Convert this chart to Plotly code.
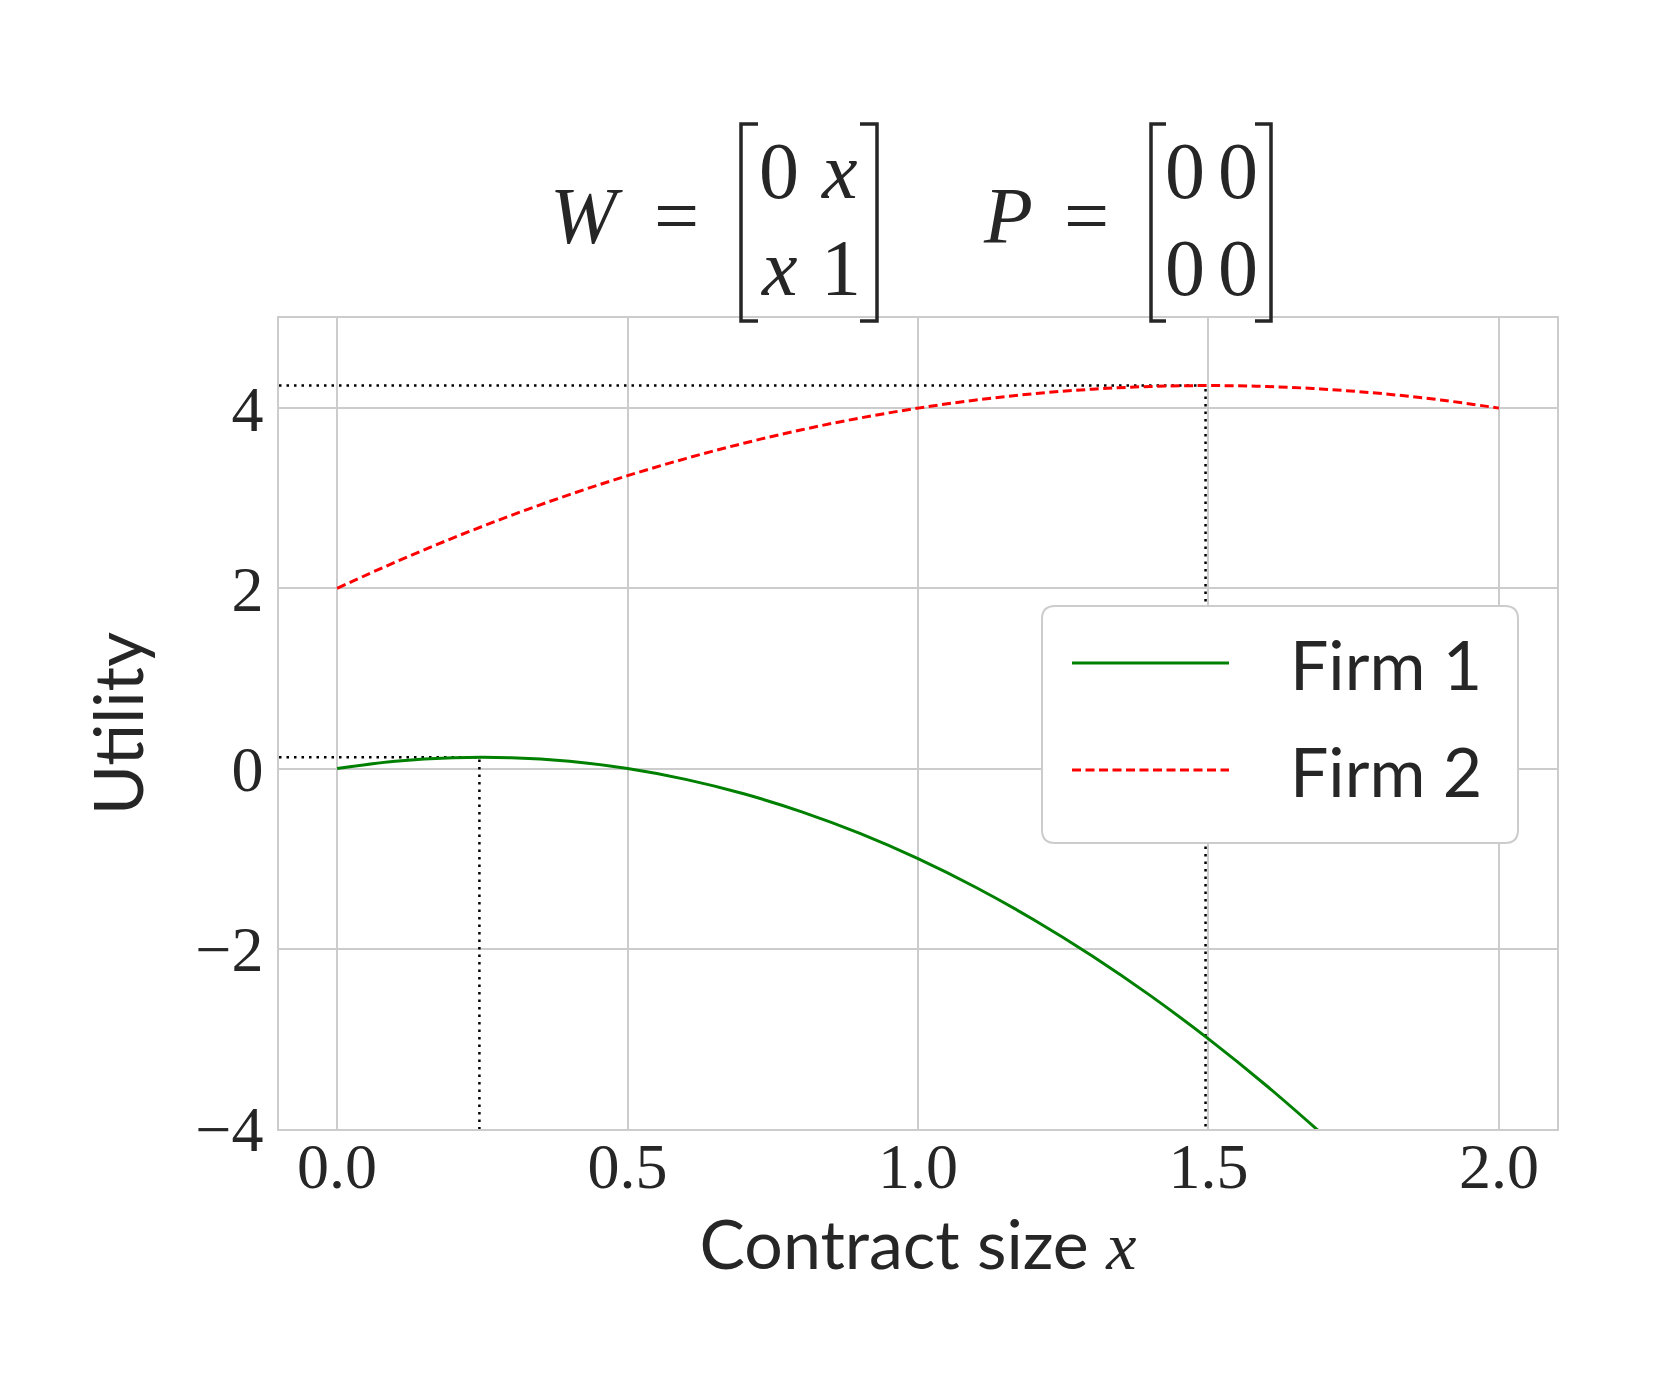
import plotly.graph_objects as go

# ---------------- data ----------------
x_values = [0.0, 0.1, 0.2, 0.3, 0.4, 0.5, 0.6, 0.7, 0.8, 0.9, 1.0,
            1.1, 1.2, 1.3, 1.4, 1.5, 1.6, 1.7, 1.8, 1.9, 2.0]
firm1_utility = [0.0, 0.08, 0.12, 0.12, 0.08, 0.0, -0.12, -0.28, -0.48, -0.72,
                 -1.0, -1.32, -1.68, -2.08, -2.52, -3.0, -3.52, -4.08]
firm2_utility = [2.0, 2.29, 2.56, 2.81, 3.04, 3.25, 3.44, 3.61, 3.76, 3.89, 4.0,
                 4.09, 4.16, 4.21, 4.24, 4.25, 4.24, 4.21, 4.16, 4.09, 4.0]
series_names = ["Firm 1", "Firm 2"]
peak_x = [0.245, 1.495]
peak_y = [0.125, 4.25]
x_ticks = [0.0, 0.5, 1.0, 1.5, 2.0]
x_tick_labels = ["0.0", "0.5", "1.0", "1.5", "2.0"]
y_ticks = [-4, -2, 0, 2, 4]
y_tick_labels = ["\u22124", "\u22122", "0", "2", "4"]
x_range = [-0.1, 2.1]
y_range = [-4, 5]

# ---------------- layout helpers ----------------
FW, FH = 1661, 1384
ML, MR, MT, MB = 279, 104, 318, 255
PW, PH = FW - ML - MR, FH - MT - MB


def px(x):
    return (x - ML) / PW


def py(y):
    return (FH - MB - y) / PH


TEXT = "#262626"
GRID = "#cccccc"
SERIF = "Liberation Serif"
SANS = "Lato"
DOT = "2.5px,5px"
DASH = "9px,4.5px"

fig = go.Figure()

# dotted guide lines to each maximum
for xm, ym in zip(peak_x, peak_y):
    fig.add_trace(go.Scatter(
        x=[x_range[0], xm, xm], y=[ym, ym, y_range[0]], mode="lines",
        line=dict(color="black", width=2.5, dash=DOT),
        showlegend=False, hoverinfo="skip"))

fig.add_trace(go.Scatter(
    x=x_values[:len(firm1_utility)], y=firm1_utility, mode="lines", name=series_names[0],
    line=dict(color="green", width=3, shape="spline"), showlegend=False))
fig.add_trace(go.Scatter(
    x=x_values, y=firm2_utility, mode="lines", name=series_names[1],
    line=dict(color="red", width=3, dash=DASH, shape="spline"), showlegend=False))

shapes = []
annotations = []

# ---------------- title (matrices) ----------------
def txt(s, x, y, size=80, font=SERIF):
    annotations.append(dict(text=s, x=px(x), y=py(y), xref="paper", yref="paper",
                            xanchor="center", yanchor="middle", showarrow=False,
                            font=dict(family=font, size=size, color=TEXT)))


def bracket(xv, xs, top=124, bot=321):
    path = f"M {px(xs)},{py(top)} L {px(xv)},{py(top)} L {px(xv)},{py(bot)} L {px(xs)},{py(bot)}"
    shapes.append(dict(type="path", path=path, xref="paper", yref="paper",
                       line=dict(color=TEXT, width=3.5)))


row1, row2, mid = 171, 268, 216
txt("<i>W</i>", 586, mid)
txt("=", 676, mid)
bracket(741, 758)
txt("0", 779, row1)
txt("<i>x</i>", 839, row1)
txt("<i>x</i>", 779, row2)
txt("1", 841, row2)
bracket(877, 860)
txt("<i>P</i>", 1008, mid)
txt("=", 1086, mid)
bracket(1151, 1166)
txt("0", 1185, row1)
txt("0", 1238, row1)
txt("0", 1185, row2)
txt("0", 1238, row2)
bracket(1271, 1255)

# ---------------- legend (drawn box) ----------------
lx0, lx1, ly0, ly1, rr = 1042, 1518, 606, 843, 13
rx, ry = rr / PW, rr / PH
path = (f"M {px(lx0)+rx},{py(ly0)} L {px(lx1)-rx},{py(ly0)} "
        f"Q {px(lx1)},{py(ly0)} {px(lx1)},{py(ly0)-ry} "
        f"L {px(lx1)},{py(ly1)+ry} Q {px(lx1)},{py(ly1)} {px(lx1)-rx},{py(ly1)} "
        f"L {px(lx0)+rx},{py(ly1)} Q {px(lx0)},{py(ly1)} {px(lx0)},{py(ly1)+ry} "
        f"L {px(lx0)},{py(ly0)-ry} Q {px(lx0)},{py(ly0)} {px(lx0)+rx},{py(ly0)} Z")
shapes.append(dict(type="path", path=path, xref="paper", yref="paper", layer="above",
                   fillcolor="white", line=dict(color=GRID, width=2)))
legend_rows = [663, 770]
legend_styles = [dict(color="green", width=3), dict(color="red", width=3, dash=DASH)]
for name, yrow, st in zip(series_names, legend_rows, legend_styles):
    shapes.append(dict(type="line", xref="paper", yref="paper", layer="above",
                       x0=px(1072), x1=px(1229), y0=py(yrow), y1=py(yrow), line=st))
    annotations.append(dict(text=name, x=px(1288), y=py(yrow), xref="paper", yref="paper",
                            xanchor="left", yanchor="middle", showarrow=False,
                            font=dict(family=SANS, size=68, color=TEXT)))

fig.update_layout(
    width=FW, height=FH,
    margin=dict(l=ML, r=MR, t=MT, b=MB, autoexpand=False),
    paper_bgcolor="white", plot_bgcolor="white",
    shapes=shapes, annotations=annotations,
    showlegend=False,
    xaxis=dict(range=x_range, tickvals=x_ticks, ticktext=x_tick_labels,
               showgrid=True, gridcolor=GRID, gridwidth=1.5, zeroline=False,
               showline=True, linecolor=GRID, linewidth=1.5, mirror=True, ticks="",
               ticklabelstandoff=-20,
               tickfont=dict(family=SERIF, size=64, color=TEXT),
               title=dict(text="Contract size <span style='font-family:Liberation Serif'><i>x</i></span>",
                          font=dict(family=SANS, size=68, color=TEXT), standoff=9)),
    yaxis=dict(range=y_range, tickvals=y_ticks, ticktext=y_tick_labels,
               showgrid=True, gridcolor=GRID, gridwidth=1.5, zeroline=False,
               showline=True, linecolor=GRID, linewidth=1.5, mirror=True, ticks="",
               ticklabelstandoff=1,
               tickfont=dict(family=SERIF, size=64, color=TEXT),
               title=dict(text="Utility", font=dict(family=SANS, size=68, color=TEXT), standoff=30)),
)

fig.write_html("out.html", config={"displayModeBar": False},
               post_script="document.body.style.margin='0';")
